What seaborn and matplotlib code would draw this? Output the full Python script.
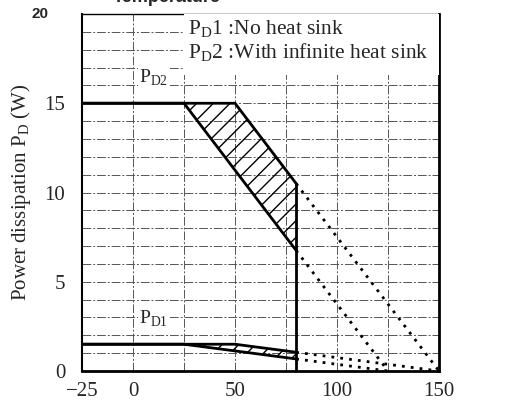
import matplotlib
matplotlib.use("Agg")
import matplotlib.pyplot as plt
import seaborn as sns
import numpy as np
import pandas as pd

# ---- data ----
pd2_upper_t = [-25, 50, 80]
pd2_upper_p = [15, 15, 10.5]
pd2_upper_ext_t = [80, 150]
pd2_upper_ext_p = [10.5, 0]
pd2_lower_t = [-25, 25, 80]
pd2_lower_p = [15, 15, 6.75]
pd2_lower_ext_t = [80, 125]
pd2_lower_ext_p = [6.75, 0]

pd1_upper_t = [-25, 50, 80]
pd1_upper_p = [1.5, 1.5, 1.05]
pd1_upper_ext_t = [80, 150]
pd1_upper_ext_p = [1.05, 0]
pd1_lower_t = [-25, 25, 80]
pd1_lower_p = [1.5, 1.5, 0.675]
pd1_lower_ext_t = [80, 125]
pd1_lower_ext_p = [0.675, 0]

limit_t = [80, 80]
limit_p = [0, 10.5]

xtick_vals = [-25, 0, 50, 100, 150]
xtick_labels = ["\u221225", "0", "50", "100", "150"]
ytick_vals = [0, 5, 10, 15]
ytick_labels = ["0", "5", "10", "15"]

sns.set_style("white")
plt.rcParams['font.family'] = ['Liberation Serif', 'DejaVu Serif']
plt.rcParams['mathtext.fontset'] = 'custom'
plt.rcParams['mathtext.rm'] = 'Liberation Serif'

fig = plt.figure(figsize=(5.18, 4.05), dpi=100)
ax = fig.add_axes([82/518, 34/405, (439-82)/518, (371-14)/405])
ax.set_xlim(-25, 150)
ax.set_ylim(0, 20)

# grid
gridstyle = dict(color="#555555", lw=0.7, ls=(0, (9, 2, 2, 2)), zorder=1)
for y in range(1, 20):
    ax.axhline(y, **gridstyle)
for x in [0, 25, 50, 75, 100, 125]:
    ax.axvline(x, **gridstyle)

def line(t, p, **kw):
    sns.lineplot(x=t, y=p, ax=ax, color="black", legend=False, zorder=4,
                 sort=False, estimator=None, **kw)

# hatched regions
t_fill = np.array([25, 50, 80])
up2 = np.interp(t_fill, pd2_upper_t, pd2_upper_p)
lo2 = np.interp(t_fill, pd2_lower_t, pd2_lower_p)
ax.fill_between(t_fill, lo2, up2, facecolor="none", edgecolor="black", hatch="//", lw=0, zorder=3)
up1 = np.interp(t_fill, pd1_upper_t, pd1_upper_p)
lo1 = np.interp(t_fill, pd1_lower_t, pd1_lower_p)
ax.fill_between(t_fill, lo1, up1, facecolor="none", edgecolor="black", hatch="//", lw=0, zorder=3)

for t, p in [(pd2_upper_t, pd2_upper_p), (pd2_lower_t, pd2_lower_p),
             (pd1_upper_t, pd1_upper_p), (pd1_lower_t, pd1_lower_p)]:
    line(t, p, lw=2)
for t, p in [(pd2_upper_ext_t, pd2_upper_ext_p), (pd2_lower_ext_t, pd2_lower_ext_p),
             (pd1_upper_ext_t, pd1_upper_ext_p), (pd1_lower_ext_t, pd1_lower_ext_p)]:
    line(t, p, lw=2, linestyle=(0, (1, 2.2)))
# vertical limit at 80
line(limit_t, limit_p, lw=2)

# legend box
ax.add_patch(plt.Rectangle((25, 16.6), 125, 3.4, facecolor="white", edgecolor="none", zorder=5))
ax.text(27, 19.75, "P$_{\\rm D}$1 :No heat sink\nP$_{\\rm D}$2 :With infinite heat sink",
        fontsize=15.5, va="top", ha="left", linespacing=1.1, zorder=6)

ax.text(3, 15.85, "P$_{\\rm D2}$", fontsize=14, ha="left", va="bottom", zorder=6,
        bbox=dict(facecolor="white", edgecolor="none", pad=0.5))
ax.text(3, 2.35, "P$_{\\rm D1}$", fontsize=14, ha="left", va="bottom", zorder=6,
        bbox=dict(facecolor="white", edgecolor="none", pad=0.5))

ax.set_xticks(xtick_vals)
ax.set_xticklabels(xtick_labels, fontsize=15)
ax.set_yticks(ytick_vals)
ax.set_yticklabels(ytick_labels, fontsize=15)
ax.tick_params(axis="y", length=0, pad=12)
ax.tick_params(axis="x", length=0, pad=8)
ax.set_ylabel("Power dissipation P$_{\\rm D}$ (W)", fontsize=15, labelpad=8)

for s in ax.spines.values():
    s.set_visible(True)
    s.set_color("black")
ax.spines['left'].set_linewidth(1.5)
ax.spines['bottom'].set_linewidth(2)
ax.spines['right'].set_linewidth(2)
ax.spines['top'].set_linewidth(1.0)

fig.text(48/518, 1 - 14/405, "20", fontsize=11, fontweight="bold",
         family="Liberation Sans", ha="right", va="center")
fig.text(167/518, 1 - 6/405, "Temperature", fontsize=13, fontweight="bold",
         family="Liberation Sans", ha="center", va="bottom")

fig.savefig("out.png", dpi=100)
